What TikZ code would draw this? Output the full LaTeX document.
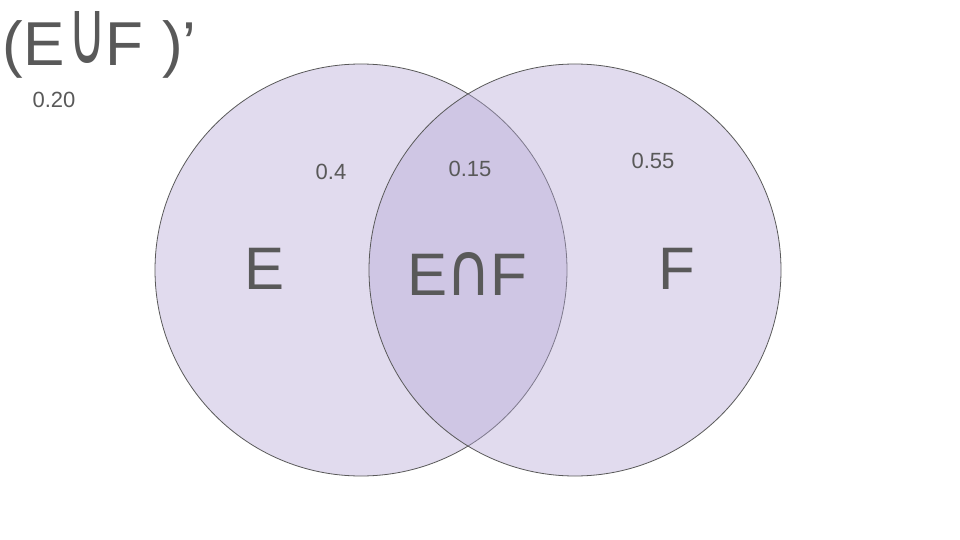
\documentclass[tikz,border=0pt]{standalone}
\usepackage{fontspec}
\usepackage{graphicx}
\setmainfont{Liberation Sans}
\newfontfamily\symfont{DejaVu Sans}
\definecolor{vfill}{HTML}{B4A7D6}
\definecolor{vtext}{HTML}{595959}
\newcommand{\tallcup}{\raisebox{2pt}{\resizebox*{38pt}{52pt}{\symfont ∪}}}
\newcommand{\tallcap}{\resizebox*{45pt}{43pt}{\symfont ∩}}
\begin{document}
\begin{tikzpicture}[x=1pt,y=-1pt,
  setcircle/.style={fill=vfill,fill opacity=0.4,draw=vtext,draw opacity=1,line width=0.8pt},
  biglabel/.style={text=vtext,inner sep=0pt,anchor=base,font=\fontsize{60}{60}\selectfont},
  numlabel/.style={text=vtext,inner sep=0pt,anchor=base,font=\fontsize{22}{22}\selectfont}]
\useasboundingbox (0,0) rectangle (960,540);
\fill[white] (0,0) rectangle (960,540);
\node[setcircle,circle,minimum size=412pt,inner sep=0pt] (E) at (361,270) {};
\node[setcircle,circle,minimum size=412pt,inner sep=0pt] (F) at (575,270) {};
\node[text=vtext,inner sep=0pt,anchor=base west,font=\fontsize{62}{62}\selectfont] (comp) at (2.5,66) {(E\kern3.5pt\tallcup\kern-1pt F\kern19pt)’};
\node[numlabel] (p20) at (54,108) {0.20};
\node[biglabel] (lE) at (265,289) {E};
\node[biglabel,anchor=base west] (lEF) at (407,295) {E\kern-0.5pt\tallcap\kern-1.5pt F};
\node[biglabel] (lF) at (677,289) {F};
\node[numlabel] (p4) at (331,179) {0.4};
\node[numlabel] (p15) at (470,177) {0.15};
\node[numlabel] (p55) at (653,168) {0.55};
\end{tikzpicture}
\end{document}
